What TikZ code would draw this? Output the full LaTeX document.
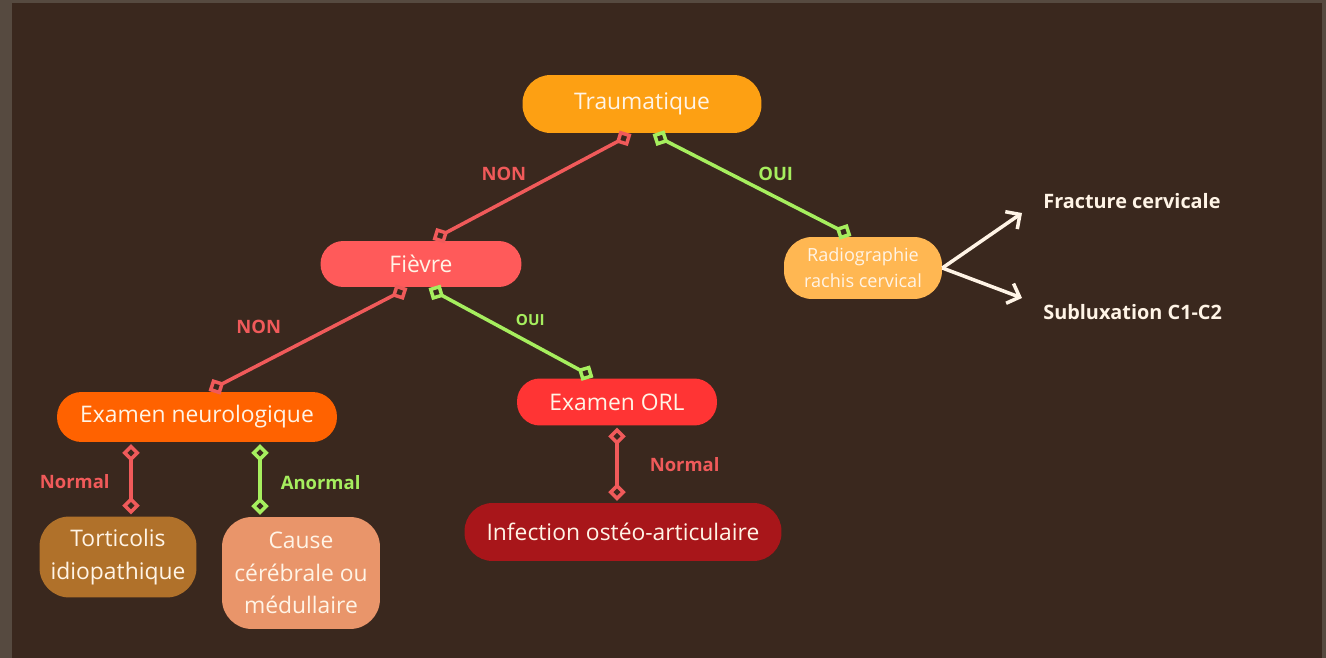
\documentclass[tikz,border=0pt]{standalone}
\usepackage{fontspec}
\setmainfont{Open Sans}
\usetikzlibrary{calc,arrows.meta}
\definecolor{bgbrown}{HTML}{3A281E}
\definecolor{framegray}{HTML}{564A40}
\definecolor{cream}{HTML}{FFF4E6}
\definecolor{traumaorange}{HTML}{FDA013}
\definecolor{fievrered}{HTML}{FF5A5A}
\definecolor{radioyellow}{HTML}{FFB752}
\definecolor{neuroorange}{HTML}{FF6200}
\definecolor{orlred}{HTML}{FF3434}
\definecolor{infectred}{HTML}{A8161A}
\definecolor{torticbrown}{HTML}{B0712A}
\definecolor{causesalmon}{HTML}{E9956A}
\definecolor{linered}{HTML}{F05A5A}
\definecolor{linegreen}{HTML}{A6EE5E}
\tikzstyle{box} = [rectangle, rounded corners=13pt, inner sep=0pt, text=cream, align=center, font=\fontsize{13}{18.5}\selectfont]
\tikzstyle{nonline} = [draw=linered, line width=2pt, shorten <=1pt, shorten >=1pt, {Diamond[open,length=10pt,width=10pt]}-{Diamond[open,length=10pt,width=10pt]}]
\tikzstyle{ouiline} = [nonline, draw=linegreen]
\tikzstyle{tag} = [font=\fontsize{10.5}{12}\selectfont\bfseries]
\tikzstyle{result} = [text=cream, inner sep=0pt, font=\fontsize{11.3}{13}\selectfont\bfseries, anchor=west]

\begin{document}
\begin{tikzpicture}[x=0.02cm, y=-0.02cm]
% frame and background
    \useasboundingbox (0,0) rectangle (1326,658);
    \fill[framegray] (0,0) rectangle (1326,658);
    \fill[bgbrown] (12,3) rectangle (1322,658);

    % Level 1
    \node (trauma) at (642,104) [box, fill=traumaorange, minimum width=4.78cm, minimum height=1.16cm, rounded corners=16pt] {Traumatique};

    % Level 2
    \node (fievre) at (421,264) [box, fill=fievrered, minimum width=4.02cm, minimum height=0.92cm] {Fièvre};
    \node (radio) at (863,268) [box, fill=radioyellow, minimum width=3.16cm, minimum height=1.24cm, font=\fontsize{10.3}{14.7}\selectfont, rounded corners=16pt] {Radiographie\\rachis cervical};

    % Level 3
    \node (neuro) at (197,417) [box, fill=neuroorange, minimum width=5.6cm, minimum height=1.0cm, rounded corners=14pt] {Examen neurologique};
    \node (orl) at (617,402) [box, fill=orlred, minimum width=4.0cm, minimum height=0.94cm] {Examen ORL};

    % Level 4
    \node (tortic) at (118,557) [box, fill=torticbrown, minimum width=3.14cm, minimum height=1.62cm, rounded corners=17pt] {Torticolis\\idiopathique};
    \node (cause) at (301,573) [box, fill=causesalmon, minimum width=3.16cm, minimum height=2.24cm, rounded corners=17pt] {Cause\\cérébrale ou\\médullaire};
    \node (infect) at (623,532) [box, fill=infectred, minimum width=6.34cm, minimum height=1.16cm, rounded corners=16pt] {Infection ostéo-articulaire};

    % Results of the X-ray
    \node (fract) at (1043,201) [result] {Fracture cervicale};
    \node (sublux) at (1043,312) [result] {Subluxation C1-C2};

    % Connectors
    \draw[nonline] ($(trauma.south)+(-9,0)$) -- ($(fievre.north)+(10,0)$) node[midway, tag, text=linered, xshift=-16pt, yshift=7.5pt] {NON};
    \draw[ouiline] ($(trauma.south)+(9,0)$) -- ($(radio.north)+(-10,0)$) node[midway, tag, text=linegreen, xshift=13.5pt, yshift=6.5pt] {OUI};

    \draw[nonline] ($(fievre.south)+(-12,0)$) -- ($(neuro.north)+(10,0)$) node[midway, tag, text=linered, xshift=-28pt, yshift=7pt] {NON};
    \draw[ouiline] ($(fievre.south)+(6,0)$) -- ($(orl.north)+(-22,0)$) node[midway, tag, text=linegreen, font=\fontsize{8.7}{10}\selectfont\bfseries, xshift=11pt, yshift=7.5pt] {OUI};

    \draw[nonline] ($(neuro.south)+(-66,0)$) -- ($(tortic.north)+(13,0)$) node[midway, tag, text=linered, xshift=-32pt, yshift=-1.5pt] {Normal};
    \draw[ouiline] ($(neuro.south)+(63,0)$) -- ($(cause.north)+(-41,0)$) node[midway, tag, text=linegreen, xshift=34.5pt, yshift=-1.5pt] {Anormal};
    \draw[nonline] (orl.south) -- ($(infect.north)+(-6,0)$) node[midway, tag, text=linered, xshift=38.5pt] {Normal};

    % White arrows
    \draw[cream, line width=2pt, -{Straight Barb[length=6pt,width=12pt]}] (radio.east) -- ($(fract.west)+(-21,12)$);
    \draw[cream, line width=2pt, -{Straight Barb[length=6pt,width=12pt]}] (radio.east) -- ($(sublux.west)+(-21,-14)$);

\end{tikzpicture}
\end{document}
